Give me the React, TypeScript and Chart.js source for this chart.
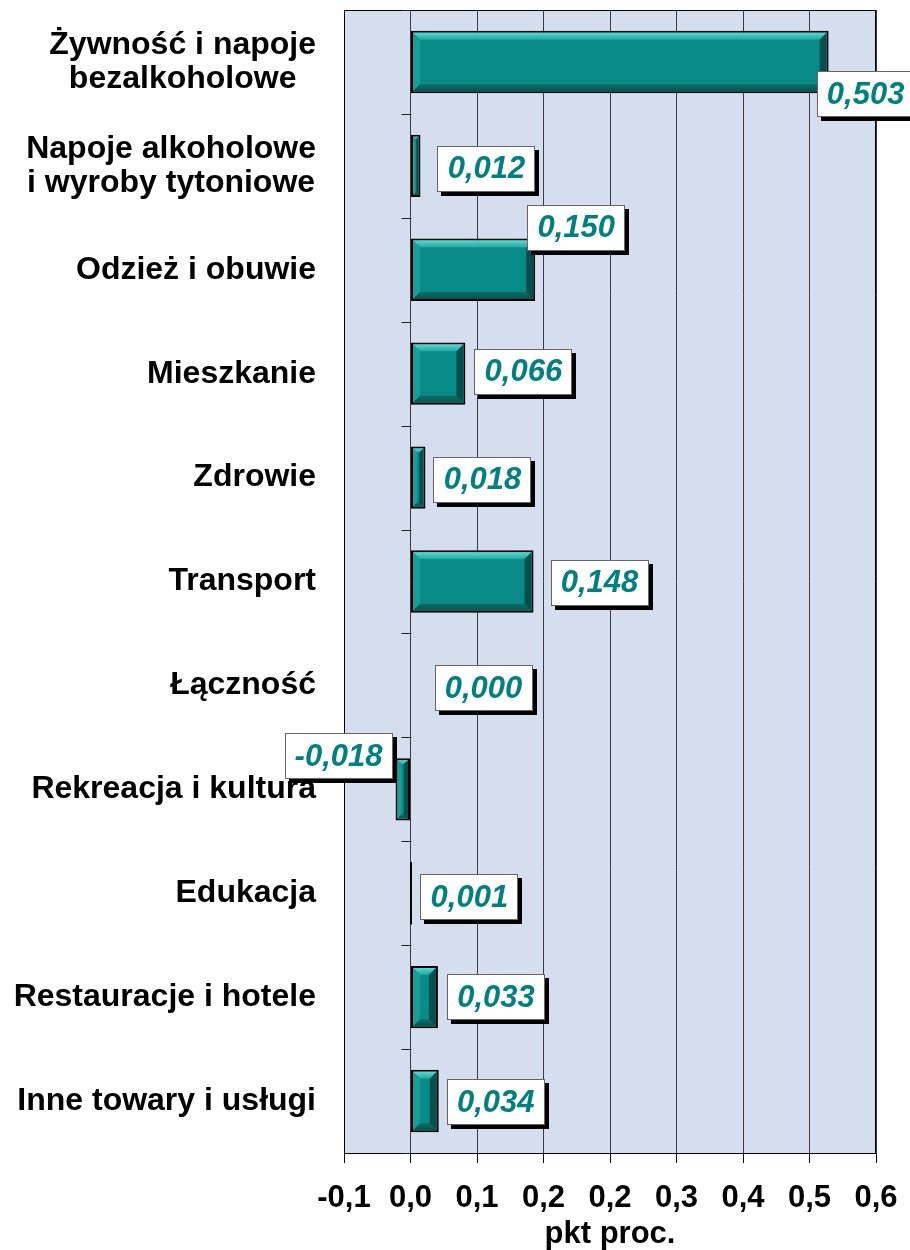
import React, { useEffect, useRef } from "react";
import { Chart, registerables } from "chart.js";

Chart.register(...registerables);

const categories: string[][] = [
  ["Żywność i napoje", "bezalkoholowe"],
  ["Napoje alkoholowe", "i wyroby tytoniowe"],
  ["Odzież i obuwie"],
  ["Mieszkanie"],
  ["Zdrowie"],
  ["Transport"],
  ["Łączność"],
  ["Rekreacja i kultura"],
  ["Edukacja"],
  ["Restauracje i hotele"],
  ["Inne towary i usługi"],
];
const values = [0.503, 0.012, 0.15, 0.066, 0.018, 0.148, 0.0, -0.018, 0.001, 0.033, 0.034];
const xTickValues = [-0.08, 0, 0.08, 0.16, 0.24, 0.32, 0.4, 0.48, 0.56];
const xTickLabels = ["-0,1", "0,0", "0,1", "0,2", "0,2", "0,3", "0,4", "0,5", "0,6"];
const axisTitle = "pkt proc.";

// style: label box centre offset from bar end (dx) and category centre (dy)
const labelOffsets = [
  [37, 32], [66, 3], [41, -42], [58, -2], [57, 2], [66, 1],
  [73, 3], [-57, -33], [58, 4], [58, 0], [57, 1],
];

const FONT = '"Liberation Sans", Arial, sans-serif';
const PLOT_BG = "#d4deef";
const TEAL = "#088a86";

function poly(ctx: CanvasRenderingContext2D, pts: number[][], fill: string | CanvasGradient) {
  ctx.beginPath();
  ctx.moveTo(pts[0][0], pts[0][1]);
  for (let i = 1; i < pts.length; i++) ctx.lineTo(pts[i][0], pts[i][1]);
  ctx.closePath();
  ctx.fillStyle = fill;
  ctx.fill();
}

const framePlugin = {
  id: "frame",
  beforeDraw(chart: any) {
    const { ctx, chartArea: a } = chart;
    ctx.save();
    ctx.fillStyle = PLOT_BG;
    ctx.fillRect(a.left, a.top, a.right - a.left, a.bottom - a.top);
    ctx.restore();
  },
  beforeDatasetsDraw(chart: any) {
    const { ctx, chartArea: a } = chart;
    const xs = chart.scales.x;
    const zx = Math.round(xs.getPixelForValue(0)) + 0.5;
    ctx.save();
    ctx.strokeStyle = "#000";
    ctx.lineWidth = 1;
    ctx.strokeRect(a.left + 0.5, a.top + 0.5, a.right - a.left - 1, a.bottom - a.top);
    const band = (a.bottom - a.top) / categories.length;
    ctx.strokeStyle = "#222";
    for (let i = 0; i <= categories.length; i++) {
      const y = Math.round(a.top + i * band) + 0.5;
      ctx.beginPath();
      ctx.moveTo(zx - 10, y);
      ctx.lineTo(zx, y);
      ctx.stroke();
    }
    ctx.restore();
  },
  afterDatasetsDraw(chart: any) {
    const { ctx } = chart;
    const meta = chart.getDatasetMeta(0);
    ctx.save();
    // bevels
    meta.data.forEach((el: any, i: number) => {
      const p = el.getProps(["x", "y", "base", "height"], true);
      const x0 = Math.min(p.x, p.base);
      const x1 = Math.max(p.x, p.base);
      const top = p.y - p.height / 2;
      if (values[i] !== 0 && x1 - x0 < 3) {
        ctx.fillStyle = "#000";
        ctx.fillRect(Math.round(x0) - 1, top, Math.max(2, x1 - x0 + 1), p.height);
        return;
      }
      const l = x0 + 2;
      const r = x1 - 2;
      const t = top + 2;
      const b = p.y + p.height / 2 - 2;
      const w = r - l, h = b - t;
      if (w < 3 || h < 3) return;
      const s = Math.min(7, w / 2.5, h / 2.5);
      const g = ctx.createLinearGradient(0, t, 0, t + s);
      g.addColorStop(0, "#5ad8d0");
      g.addColorStop(1, "#1ea5a0");
      poly(ctx, [[l, t], [r, t], [r - s, t + s], [l + s, t + s]], g);
      poly(ctx, [[l, t], [l + s, t + s], [l + s, b - s], [l, b]], "#1a9c97");
      const g2 = ctx.createLinearGradient(0, b - s, 0, b);
      g2.addColorStop(0, "#0b6f6b");
      g2.addColorStop(1, "#075350");
      poly(ctx, [[l, b], [l + s, b - s], [r - s, b - s], [r, b]], g2);
      poly(ctx, [[r, t], [r, b], [r - s, b - s], [r - s, t + s]], "#05504e");
    });
    // value labels
    ctx.font = `italic bold 31px ${FONT}`;
    ctx.textAlign = "center";
    ctx.textBaseline = "middle";
    meta.data.forEach((el: any, i: number) => {
      const p = el.getProps(["x", "y"], true);
      const txt = (values[i] < 0 ? "-" : "") + Math.abs(values[i]).toFixed(3).replace(".", ",");
      const cx = p.x + labelOffsets[i][0];
      const cy = p.y + labelOffsets[i][1];
      const tw = ctx.measureText(txt).width;
      const bw = Math.round(tw + 20);
      const bh = 46;
      const bx = Math.round(cx - bw / 2);
      const by = Math.round(cy - bh / 2);
      ctx.fillStyle = "#000";
      ctx.fillRect(bx + 4, by + 4, bw, bh);
      ctx.fillStyle = "#fff";
      ctx.fillRect(bx, by, bw, bh);
      ctx.strokeStyle = "#666";
      ctx.lineWidth = 1;
      ctx.strokeRect(bx + 0.5, by + 0.5, bw - 1, bh - 1);
      ctx.fillStyle = "#008080";
      ctx.fillText(txt, cx, cy + 1);
    });
    ctx.restore();
  },
  afterDraw(chart: any) {
    const { ctx } = chart;
    const ys = chart.scales.y;
    ctx.save();
    ctx.font = `bold 32px ${FONT}`;
    ctx.fillStyle = "#000";
    ctx.textAlign = "center";
    ctx.textBaseline = "middle";
    const right = 316;
    const lh = 34;
    categories.forEach((lines, i) => {
      const cy = ys.getPixelForValue(i);
      const maxW = Math.max(...lines.map((s) => ctx.measureText(s).width));
      const cx = right - maxW / 2;
      lines.forEach((s, j) => {
        const y = cy + (j - (lines.length - 1) / 2) * lh;
        ctx.fillText(s, cx, y);
      });
    });
    ctx.restore();
  },
};

export default function App() {
  const ref = useRef<HTMLCanvasElement | null>(null);
  useEffect(() => {
    document.body.style.margin = "0";
    const canvas = ref.current!;
    const chart = new Chart(canvas, {
      type: "bar",
      data: {
        labels: categories.map((c) => c.join(" ")),
        datasets: [
          {
            data: values,
            backgroundColor: TEAL,
            borderColor: "#000",
            borderWidth: 2,
            borderSkipped: false,
            barPercentage: 0.6,
            categoryPercentage: 1,
          },
        ],
      },
      options: {
        indexAxis: "y",
        responsive: false,
        animation: false,
        devicePixelRatio: 1,
        layout: { padding: { top: 10, right: 34, left: 0, bottom: 0 } },
        plugins: { legend: { display: false }, tooltip: { enabled: false } },
        scales: {
          x: {
            type: "linear",
            min: -0.08,
            max: 0.56,
            afterBuildTicks: (s: any) => {
              s.ticks = xTickValues.map((v) => ({ value: v }));
            },
            afterFit: (s: any) => {
              s.height = 97;
              s.paddingLeft = 0;
              s.paddingRight = 0;
            },
            ticks: {
              font: { family: FONT, size: 31, weight: "bold" },
              color: "#000",
              padding: 17,
              maxRotation: 0,
              autoSkip: false,
              callback: (_v: any, i: number) => xTickLabels[i],
            },
            grid: {
              color: (c: any) => (c.index === 0 ? "#000" : "#3c3c3c"),
              lineWidth: 1,
              drawTicks: true,
              tickLength: 10,
              tickColor: "#000",
            },
            border: { display: true, color: "#000", width: 1 },
            title: {
              display: true,
              text: axisTitle,
              color: "#000",
              font: { family: FONT, size: 31, weight: "bold" },
              padding: { top: 0, bottom: -3 },
            },
          },
          y: {
            type: "category",
            afterFit: (s: any) => {
              s.width = 344;
              s.paddingTop = 0;
              s.paddingBottom = 0;
            },
            ticks: { display: false },
            grid: { display: false },
            border: { display: false },
          },
        },
      },
      plugins: [framePlugin],
    } as any);
    return () => chart.destroy();
  }, []);
  return <canvas ref={ref} width={910} height={1250} style={{ display: "block" }} />;
}
